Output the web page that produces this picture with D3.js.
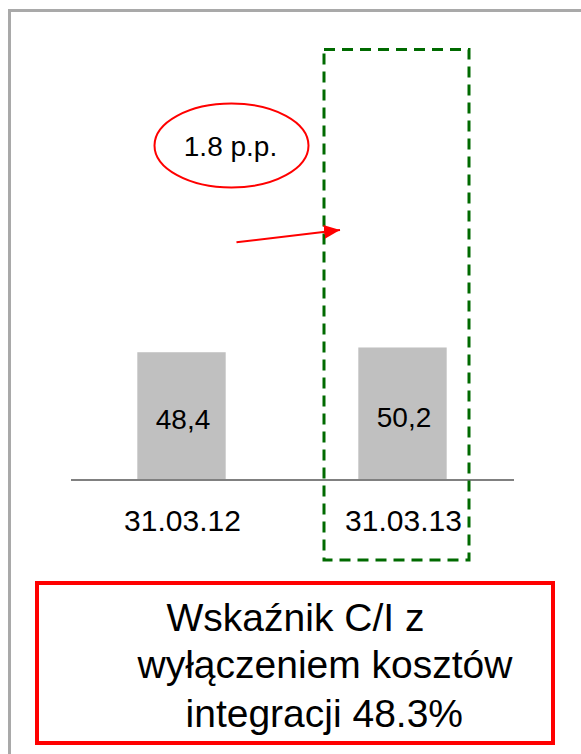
<!DOCTYPE html>
<html>
<head>
<meta charset="utf-8">
<script src="https://cdn.jsdelivr.net/npm/d3@7"></script>
<style>
  html, body { margin: 0; padding: 0; background: #ffffff; }
  svg { display: block; }
  text { font-family: "Liberation Sans", Arial, sans-serif; fill: #000; }
</style>
</head>
<body>
<svg id="chart" width="581" height="754"></svg>
<script>
// ---- data ----
const categories = ["31.03.12", "31.03.13"];
const values = [48.4, 50.2];
const valueLabels = ["48,4", "50,2"];
const changeLabel = "1.8 p.p.";
const highlightedCategory = "31.03.13";
const noteLines = ["Wskaźnik C/I z", "wyłączeniem kosztów", "integracji 48.3%"];

// ---- layout ----
const svg = d3.select("#chart");
const W = 581, H = 754;

const x = d3.scaleBand()
  .domain(categories)
  .range([71, 513])
  .paddingInner(0.6)
  .paddingOuter(0.3);

const y = d3.scaleLinear()
  .domain([0, 100])
  .range([480, 216]);

// outer gray frame (top and left edges visible)
svg.append("path")
  .attr("d", `M9.5,${H} L9.5,10.5 L${W},10.5`)
  .attr("fill", "none")
  .attr("stroke", "#a9a9a9")
  .attr("stroke-width", 3);

// bars
svg.selectAll("rect.bar")
  .data(values)
  .join("rect")
  .attr("class", "bar")
  .attr("x", (d, i) => x(categories[i]))
  .attr("width", x.bandwidth())
  .attr("y", d => y(d))
  .attr("height", d => y(0) - y(d))
  .attr("fill", "#c0c0c0");

// baseline axis
const axis = d3.axisBottom(x).tickSize(0).tickPadding(0).tickFormat("");
const axisG = svg.append("g")
  .attr("transform", `translate(0,${y(0)})`)
  .call(axis);
axisG.select(".domain")
  .attr("d", `M71,0H514`)
  .attr("stroke", "#808080")
  .attr("stroke-width", 2);

// value labels inside bars
svg.selectAll("text.val")
  .data(values)
  .join("text")
  .attr("class", "val")
  .attr("x", (d, i) => x(categories[i]) + x.bandwidth() / 2 + 1.5)
  .attr("y", (d, i) => y(0) - (i === 0 ? 51 : 53))
  .attr("text-anchor", "middle")
  .attr("font-size", 28)
  .text((d, i) => valueLabels[i]);

// category labels
svg.selectAll("text.cat")
  .data(categories)
  .join("text")
  .attr("class", "cat")
  .attr("x", d => x(d) + x.bandwidth() / 2 + 1)
  .attr("y", 531)
  .attr("text-anchor", "middle")
  .attr("font-size", 30)
  .text(d => d);

// green dashed highlight around the second category
const hx = x(highlightedCategory) + x.bandwidth() / 2;
svg.append("rect")
  .attr("x", hx - 78.5)
  .attr("y", 49.5)
  .attr("width", 145)
  .attr("height", 510.5)
  .attr("fill", "none")
  .attr("stroke", "#006a00")
  .attr("stroke-width", 3)
  .attr("stroke-dasharray", "11,7");

// red arrow
const defs = svg.append("defs");
defs.append("marker")
  .attr("id", "arrowhead")
  .attr("viewBox", "0 0 16 14")
  .attr("refX", 16)
  .attr("refY", 7)
  .attr("markerWidth", 16)
  .attr("markerHeight", 14)
  .attr("markerUnits", "userSpaceOnUse")
  .attr("orient", "auto")
  .append("path")
  .attr("d", "M0,0 L16,7 L0,14 Z")
  .attr("fill", "#ff0000");

svg.append("line")
  .attr("x1", 236.5)
  .attr("y1", 242.3)
  .attr("x2", 340)
  .attr("y2", 230)
  .attr("stroke", "#ff0000")
  .attr("stroke-width", 2)
  .attr("marker-end", "url(#arrowhead)");

// red ellipse with change label
svg.append("ellipse")
  .attr("cx", 231.5)
  .attr("cy", 145.5)
  .attr("rx", 77)
  .attr("ry", 42)
  .attr("fill", "none")
  .attr("stroke", "#ff0000")
  .attr("stroke-width", 2);

svg.append("text")
  .attr("x", 230.5)
  .attr("y", 155.7)
  .attr("text-anchor", "middle")
  .attr("font-size", 28)
  .text(changeLabel);

// bottom red note box
svg.append("rect")
  .attr("x", 37)
  .attr("y", 583)
  .attr("width", 516)
  .attr("height", 160)
  .attr("fill", "none")
  .attr("stroke", "#ff0000")
  .attr("stroke-width", 4);

const noteX = [295.5, 325, 324.3];
const noteY = [631, 678, 727];
svg.selectAll("text.note")
  .data(noteLines)
  .join("text")
  .attr("class", "note")
  .attr("x", (d, i) => noteX[i])
  .attr("y", (d, i) => noteY[i])
  .attr("text-anchor", "middle")
  .attr("font-size", 39)
  .text(d => d);
</script>
</body>
</html>
